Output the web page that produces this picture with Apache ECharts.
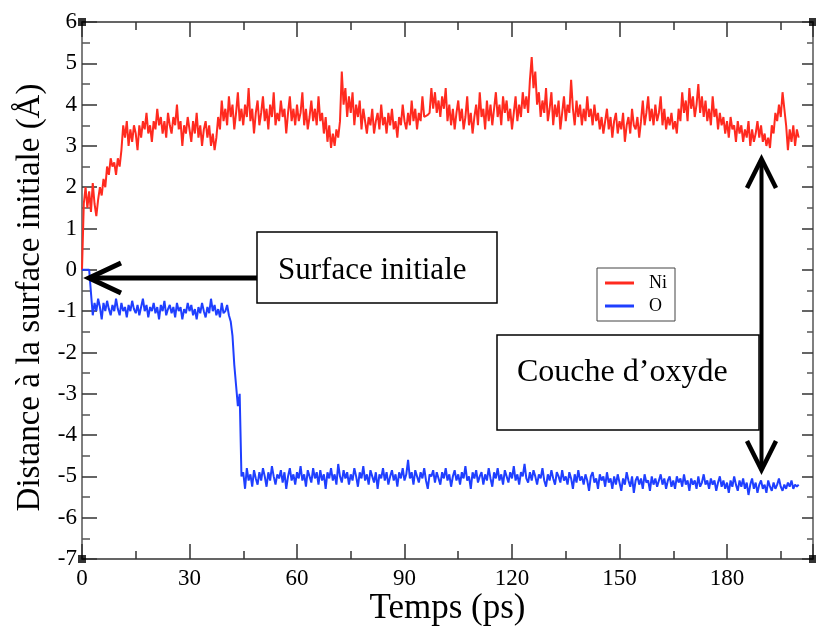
<!DOCTYPE html>
<html>
<head>
<meta charset="utf-8">
<script src="https://cdn.jsdelivr.net/npm/echarts@6/dist/echarts.min.js"></script>
<style>html,body{margin:0;padding:0;background:#fff;}#c{width:816px;height:626px;}</style>
</head>
<body>
<div id="c"></div>
<script>
// time step between samples (ps)
const dt = 0.5;
const xTickLabels = [0, 30, 60, 90, 120, 150, 180];
const yTickLabels = [-7, -6, -5, -4, -3, -2, -1, 0, 1, 2, 3, 4, 5, 6];
const seriesNames = ['Ni', 'O'];

const niValues = [
0, 1.6, 2.0, 1.5, 1.9, 1.4, 2.1, 1.6, 1.3, 1.7,
2.0, 1.8, 2.2, 2.0, 2.5, 2.3, 2.7, 2.5, 2.6, 2.3,
2.7, 2.5, 2.9, 3.5, 3.2, 3.6, 3.0, 3.4, 3.1, 3.5,
3.3, 2.9, 3.5, 3.2, 3.6, 3.4, 3.8, 3.3, 3.5, 3.1,
3.6, 3.4, 3.9, 3.5, 3.7, 3.3, 3.6, 3.2, 3.8, 3.5,
3.3, 3.7, 3.5, 4.0, 3.4, 3.6, 3.0, 3.5, 3.3, 3.7,
3.4, 3.1, 3.6, 3.3, 3.8, 3.2, 3.5, 3.0, 3.4, 3.6,
3.2, 3.5, 3.0, 3.3, 2.9, 3.2, 3.7, 3.4, 4.1, 3.6,
3.9, 3.5, 4.2, 3.7, 4.0, 3.4, 3.8, 4.3, 3.6, 3.9,
3.5, 4.0, 3.7, 4.4, 3.6, 3.9, 3.3, 3.8, 4.1, 3.5,
3.8, 4.2, 3.6, 3.9, 3.4, 4.0, 3.7, 4.3, 3.5, 3.8,
3.6, 4.1, 3.7, 3.9, 3.3, 3.8, 4.2, 3.6, 3.9, 3.5,
4.0, 3.6, 3.8, 4.3, 3.5, 3.9, 3.4, 3.7, 4.1, 3.6,
3.9, 3.5, 4.2, 3.6, 3.8, 3.3, 3.7, 3.1, 3.5, 2.95,
3.3, 3.0, 3.4, 3.2, 3.6, 4.8, 4.0, 4.4, 3.7, 4.2,
3.8, 4.3, 3.5, 4.0, 3.7, 4.1, 3.4, 3.9, 3.6, 3.3,
3.7, 3.5, 3.9, 3.3, 3.6, 3.8, 3.4, 4.0, 3.5, 3.7,
3.3, 3.8, 3.5, 3.9, 3.4, 3.6, 3.2, 3.7, 3.5, 4.0,
3.6, 3.4, 3.8, 3.5, 4.1, 3.6, 3.9, 3.4, 3.8, 3.6,
4.2, 3.7, 3.7, 3.75, 3.8, 4.4, 3.9, 4.3, 3.8, 4.1,
3.7, 4.2, 3.9, 4.4, 3.6, 4.0, 3.5, 3.9, 3.4, 3.8,
4.1, 3.6, 3.9, 3.4, 3.7, 4.2, 3.5, 3.8, 3.3, 3.7,
4.0, 3.5, 4.3, 3.7, 3.9, 3.4, 4.1, 3.6, 4.0, 3.5,
3.9, 4.3, 3.7, 4.0, 3.5, 4.2, 3.8, 4.1, 3.6, 3.9,
3.4, 3.8, 4.2, 3.6, 4.0, 3.7, 4.3, 3.9, 4.2, 3.8,
4.6, 5.15, 4.4, 4.8, 4.0, 4.3, 3.7, 4.1, 3.8, 4.4,
3.6, 3.9, 4.3, 3.5, 4.0, 3.7, 4.1, 3.4, 3.8, 4.2,
3.6, 4.0, 3.8, 4.6, 3.9, 3.5, 4.1, 3.7, 4.0, 3.5,
3.9, 3.6, 4.2, 3.7, 3.9, 3.5, 4.0, 3.6, 3.8, 3.4,
3.7, 3.3, 3.6, 3.9, 3.4, 3.7, 3.2, 3.6, 3.8, 3.3,
3.6, 3.4, 3.8, 3.1, 3.5, 3.7, 3.3, 3.9, 3.5, 3.4,
3.7, 3.2, 3.6, 4.1, 3.5, 3.8, 4.2, 3.6, 3.9, 3.5,
4.0, 3.6, 3.8, 4.2, 3.5, 3.9, 3.4, 3.7, 3.5, 3.8,
3.4, 3.6, 3.3, 3.9, 3.6, 4.3, 3.8, 4.1, 3.6, 4.4,
3.9, 4.2, 3.7, 4.0, 4.5, 3.8, 4.2, 3.7, 4.1, 3.6,
3.9, 3.5, 4.2, 3.7, 3.9, 3.4, 3.8, 3.5, 3.7, 3.3,
3.6, 3.2, 3.7, 3.4, 3.5, 3.1, 3.6, 3.3, 3.5, 3.1,
3.4, 3.2, 3.6, 3.0, 3.4, 3.1, 3.3, 3.6, 3.2, 3.5,
3.1, 3.3, 3.0, 3.2, 2.95, 3.5, 3.3, 3.8, 3.6, 4.0,
3.7, 4.3, 3.9, 3.5, 2.9, 3.4, 3.1, 3.5, 3.0, 3.4,
3.2
];

const oValues = [
0, 0, 0, 0, 0, 0, -1.1, -0.8, -1.0, -0.7,
-0.9, -1.2, -0.8, -1.0, -0.75, -0.95, -1.1, -0.85, -1.0, -0.7,
-0.95, -1.1, -0.8, -1.0, -0.9, -1.15, -0.85, -1.0, -0.75, -0.95,
-1.05, -0.85, -1.1, -0.9, -0.7, -1.0, -0.85, -1.15, -0.9, -1.0,
-0.8, -1.05, -0.9, -1.2, -0.85, -1.0, -0.75, -1.1, -0.95, -0.85,
-1.05, -0.9, -1.15, -0.8, -1.0, -0.9, -1.2, -0.95, -1.05, -0.8,
-1.0, -0.85, -1.1, -0.95, -1.2, -0.9, -1.05, -0.8, -1.0, -1.15,
-0.9, -1.05, -0.7, -1.0, -0.85, -1.1, -0.95, -1.15, -0.8, -1.05,
-1.0, -0.85, -1.1, -1.25, -1.6, -2.3, -2.8, -3.3, -3.0, -5.0,
-4.9, -5.3, -4.8, -5.1, -4.95, -5.25, -4.85, -5.05, -5.2, -4.9,
-5.1, -4.8, -5.0, -5.25, -4.9, -5.1, -4.75, -5.0, -5.2, -4.95,
-5.05, -4.85, -5.15, -4.9, -5.3, -5.0, -4.8, -5.1, -4.95, -5.2,
-4.9, -5.05, -4.75, -5.1, -4.95, -5.25, -4.85, -5.0, -5.15, -4.8,
-5.05, -4.9, -5.2, -4.85, -5.1, -4.95, -5.3, -4.9, -5.05, -4.8,
-5.1, -4.95, -5.2, -4.7, -5.0, -5.15, -4.85, -5.05, -4.9, -5.2,
-4.95, -5.1, -4.8, -5.0, -5.25, -4.9, -5.05, -4.75, -5.1, -4.95,
-5.2, -4.85, -5.0, -5.15, -4.9, -5.3, -4.95, -5.05, -4.8, -5.1,
-4.9, -5.2, -5.0, -4.85, -5.1, -4.95, -5.25, -4.9, -5.05, -4.8,
-5.1, -4.95, -4.6, -5.05, -4.9, -5.2, -4.85, -5.0, -5.15, -4.9,
-5.05, -4.8, -5.1, -5.3, -4.95, -5.0, -4.85, -5.15, -4.9, -5.05,
-5.2, -4.9, -5.05, -4.8, -5.1, -4.95, -5.25, -5.0, -4.85, -5.1,
-4.95, -5.2, -4.9, -5.05, -4.75, -5.1, -5.0, -5.3, -4.9, -5.05,
-4.85, -5.15, -5.0, -4.9, -5.2, -4.95, -5.1, -4.8, -5.05, -5.25,
-4.9, -5.05, -4.8, -5.1, -4.95, -5.2, -4.85, -5.0, -5.15, -4.9,
-5.05, -4.75, -5.1, -4.95, -5.2, -4.9, -5.0, -4.7, -5.05, -5.15,
-4.9, -5.1, -4.85, -5.0, -5.2, -4.95, -5.05, -4.8, -5.1, -5.25,
-4.95, -5.1, -4.85, -5.05, -5.2, -4.9, -5.0, -5.15, -4.85, -5.1,
-5.0, -5.2, -4.9, -5.05, -5.3, -4.95, -5.15, -4.85, -5.1, -5.0,
-5.2, -4.95, -5.1, -5.35, -5.0, -4.9, -5.15, -5.05, -5.3, -4.95,
-5.1, -5.0, -5.25, -4.9, -5.15, -5.05, -5.3, -5.0, -5.2, -4.95,
-5.15, -5.35, -5.05, -5.2, -4.9, -5.1, -5.25, -5.0, -5.4, -5.1,
-5.0, -5.2, -5.05, -5.3, -4.95, -5.15, -5.1, -5.35, -5.0, -5.2,
-5.05, -5.25, -5.1, -4.95, -5.2, -5.05, -5.3, -5.1, -5.0, -5.25,
-5.1, -5.3, -5.0, -5.15, -5.05, -5.25, -4.95, -5.2, -5.1, -5.35,
-5.05, -5.2, -5.1, -5.3, -5.0, -5.25, -5.15, -4.95, -5.2, -5.1,
-5.3, -5.05, -5.2, -5.1, -5.35, -5.15, -5.0, -5.25, -5.1, -5.3,
-5.15, -5.4, -5.1, -5.25, -5.0, -5.2, -5.35, -5.1, -5.25, -5.05,
-5.3, -5.15, -5.45, -5.2, -5.05, -5.3, -5.15, -5.4, -5.2, -5.1,
-5.3, -5.2, -5.4, -5.1, -5.25, -5.35, -5.15, -5.3, -5.2, -5.05,
-5.25, -5.35, -5.2, -5.3, -5.15, -5.25, -5.1, -5.3, -5.2, -5.25,
-5.2
];

const xMin = 0, xMax = 204, yMin = -7, yMax = 6;
const corners = [[xMin, yMax], [xMax, yMax], [xMin, yMin], [xMax, yMin]];

const FONT = "'Liberation Serif', 'Times New Roman', serif";
const niData = niValues.map((v, i) => [i * dt, v]);
const oData = oValues.map((v, i) => [i * dt, v]);

const chart = echarts.init(document.getElementById('c'), null, {renderer: 'canvas'});

function xAxisCfg(pos, showLabels) {
  return {
    type: 'value', position: pos, min: xMin, max: xMax, interval: 30,
    name: showLabels ? 'Temps (ps)' : '', nameLocation: 'middle', nameGap: 32, nameMoveOverlap: false,
    nameTextStyle: {fontFamily: FONT, fontSize: 35, color: '#000'},
    axisLine: {show: true, onZero: false, lineStyle: {color: '#333', width: 1.5}},
    axisTick: {show: true, inside: true, length: 15, lineStyle: {color: '#333', width: 1.5}},
    minorTick: {show: true, splitNumber: 2, length: 8, lineStyle: {color: '#333', width: 1.5}},
    splitLine: {show: false}, minorSplitLine: {show: false},
    axisLabel: {show: showLabels, showMaxLabel: false, margin: 8, fontFamily: FONT, fontSize: 23, color: '#000',
      formatter: v => xTickLabels.indexOf(v) >= 0 ? String(v) : ''}
  };
}
function yAxisCfg(pos, showLabels, len, mlen) {
  return {
    type: 'value', position: pos, min: yMin, max: yMax, interval: 1,
    name: showLabels ? 'Distance à la surface initiale (Å)' : '', nameLocation: 'middle', nameGap: 35, nameMoveOverlap: false,
    nameTextStyle: {fontFamily: FONT, fontSize: 33, color: '#000', padding: [0, 14, 0, 0]},
    axisLine: {show: true, onZero: false, lineStyle: {color: '#555', width: 1.5}},
    axisTick: {show: true, inside: true, length: len, lineStyle: {color: '#333', width: 1.5}},
    minorTick: {show: true, splitNumber: 2, length: mlen, lineStyle: {color: '#555', width: 1.5}},
    splitLine: {show: false}, minorSplitLine: {show: false},
    axisLabel: {show: showLabels, margin: 5, fontFamily: FONT, fontSize: 23, color: '#000',
      formatter: v => yTickLabels.indexOf(v) >= 0 ? String(v) : ''}
  };
}

const option = {
  animation: false,
  backgroundColor: '#fff',
  grid: {left: 82, right: 3, top: 22, bottom: 67, containLabel: false, outerBoundsMode: 'none'},
  xAxis: [xAxisCfg('bottom', true), xAxisCfg('top', false)],
  yAxis: [yAxisCfg('left', true, 15, 8), yAxisCfg('right', false, 11, 6)],
  legend: {
    data: seriesNames, orient: 'vertical', left: 597, top: 268,
    backgroundColor: '#fff', borderColor: '#444', borderWidth: 1,
    padding: [6, 8, 6, 8], itemGap: 5, itemWidth: 29, itemHeight: 3, icon: 'rect',
    textStyle: {fontFamily: FONT, fontSize: 18, color: '#000', padding: [0, 0, 0, 10]}
  },
  series: [
    {name: 'Ni', type: 'line', data: niData, showSymbol: false, symbol: 'none',
     lineStyle: {color: '#ff2a1f', width: 2}, itemStyle: {color: '#ff2a1f'}, z: 3},
    {name: 'O', type: 'line', data: oData, showSymbol: false, symbol: 'none',
     lineStyle: {color: '#1f3fff', width: 2}, itemStyle: {color: '#1f3fff'}, z: 3},
    {name: 'corners', type: 'scatter', data: corners, symbol: 'rect', symbolSize: 8, clip: false,
     itemStyle: {color: '#000'}, silent: true, z: 10}
  ],
  graphic: [
    {type: 'rect', shape: {x: 257, y: 232, width: 240, height: 71},
     style: {fill: '#fff', stroke: '#000', lineWidth: 1.5}, z: 20},
    {type: 'text', style: {x: 278, y: 271, text: 'Surface initiale', font: '31px ' + FONT,
     fill: '#000', textAlign: 'left', textVerticalAlign: 'middle'}, z: 21},
    {type: 'line', shape: {x1: 257, y1: 278, x2: 90, y2: 278},
     style: {stroke: '#000', lineWidth: 5}, z: 20},
    {type: 'polyline', shape: {points: [[121, 263], [89, 278], [121, 293]]},
     style: {stroke: '#000', lineWidth: 5, fill: null, lineJoin: 'miter'}, z: 20},
    {type: 'rect', shape: {x: 497, y: 335, width: 262, height: 95},
     style: {fill: '#fff', stroke: '#000', lineWidth: 1.5}, z: 20},
    {type: 'text', style: {x: 517, y: 373, text: 'Couche d’oxyde', font: '32px ' + FONT,
     fill: '#000', textAlign: 'left', textVerticalAlign: 'middle'}, z: 21},
    {type: 'line', shape: {x1: 761.5, y1: 160, x2: 761.5, y2: 469},
     style: {stroke: '#000', lineWidth: 4}, z: 20},
    {type: 'polyline', shape: {points: [[747, 188], [761.5, 159], [776, 188]]},
     style: {stroke: '#000', lineWidth: 4.5, fill: null}, z: 20},
    {type: 'polyline', shape: {points: [[747, 441], [761.5, 470], [776, 441]]},
     style: {stroke: '#000', lineWidth: 4.5, fill: null}, z: 20}
  ]
};
chart.setOption(option);
</script>
</body>
</html>
